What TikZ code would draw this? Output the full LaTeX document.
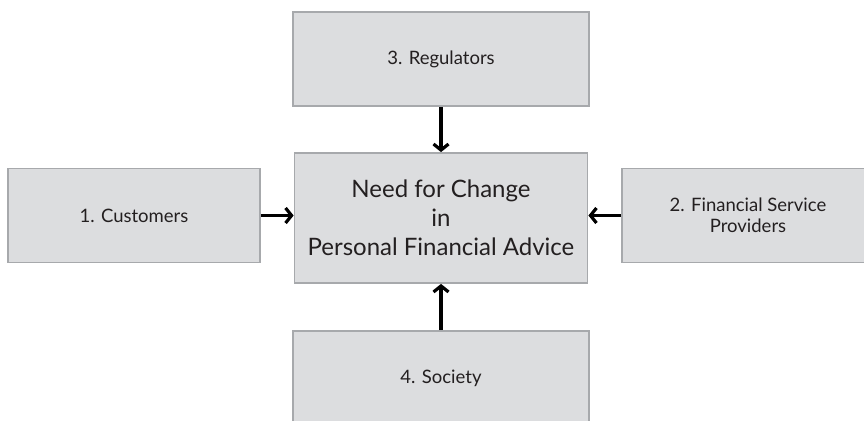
\documentclass[tikz,border=0pt]{standalone}
\usepackage{fontspec}
\setmainfont{Lato}
\usepackage{xcolor}
\usepackage{tikz}
\usetikzlibrary{arrows.meta, positioning}

\definecolor{boxgray}{HTML}{DCDDDF}
\definecolor{edgegray}{HTML}{A7A9AC}
\definecolor{textgray}{HTML}{231F20}

\tikzset{
  factor/.style={draw=edgegray, fill=boxgray, line width=1.8pt, text=textgray,
    align=center, inner sep=0pt, minimum width=252pt, minimum height=94pt,
    font=\fontsize{18.5}{21.5}\selectfont},
  centre/.style={factor, minimum width=293pt, minimum height=130pt,
    font=\fontsize{24}{29}\selectfont},
  push/.style={-{Straight Barb[length=6pt,width=15pt]}, line width=3.2pt},
}

\begin{document}
\begin{tikzpicture}[x=1pt, y=-1pt]
  \useasboundingbox (0,0) rectangle (864,420);
  \clip (0,0) rectangle (864,420);
  \node[centre] (need) at (441,218) {Need for Change\\in\\Personal Financial Advice};
  \node[factor, minimum width=296pt] (reg) at (441,59) {3. Regulators};
  \node[factor] (cust) at (134,215.5) {1. Customers};
  \node[factor] (prov) at (748,215.5) {2. Financial Service\\Providers};
  \node[factor, minimum width=296pt] (soc) at (441,378) {4. Society};
  \draw[push] (reg) -- (need);
  \draw[push] (cust) -- (cust -| need.west);
  \draw[push] (prov) -- (prov -| need.east);
  \draw[push] (soc) -- (need);
\end{tikzpicture}
\end{document}
